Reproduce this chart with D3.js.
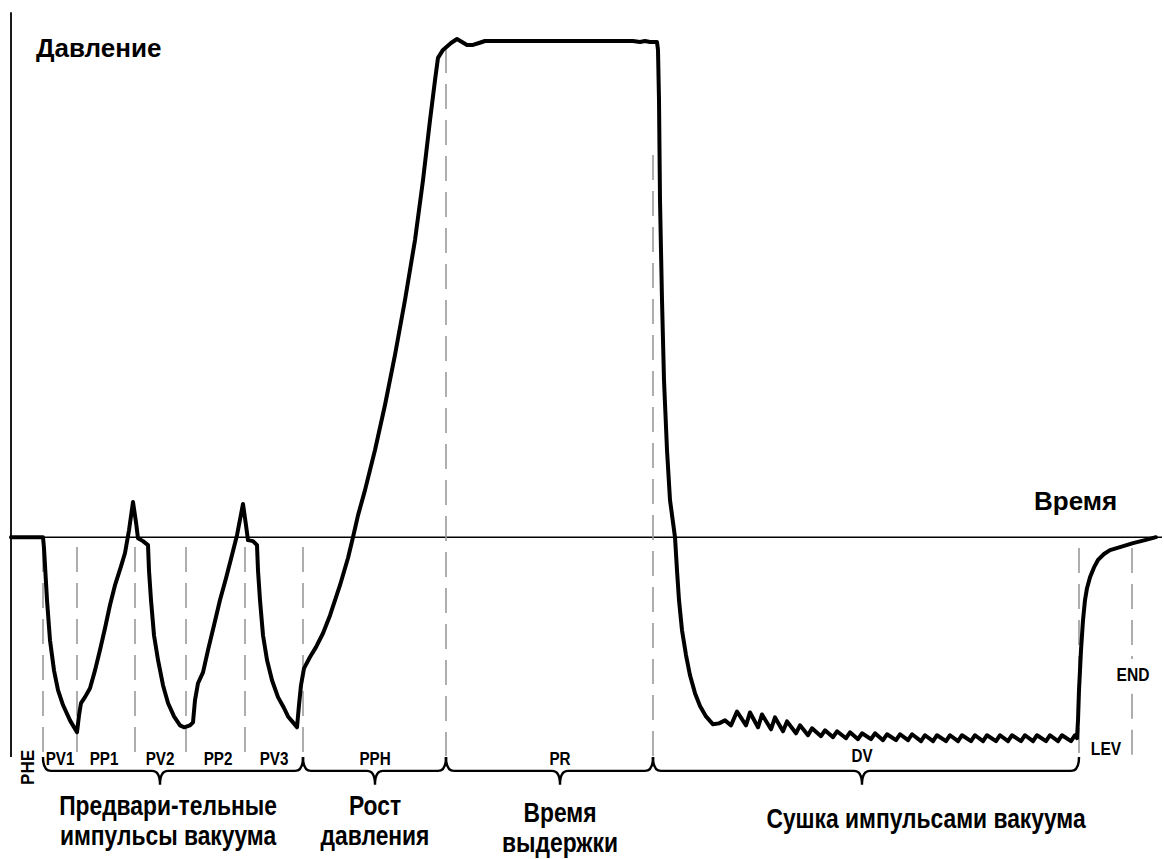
<!DOCTYPE html>
<html><head><meta charset="utf-8">
<script src="https://cdn.jsdelivr.net/npm/d3@7"></script>
<style>
html,body{margin:0;padding:0;background:#fff;}
svg{display:block;}
text{font-family:"Liberation Sans",Arial,"Helvetica",sans-serif;font-weight:bold;fill:#000;}
</style></head><body>
<script>
// ---- data (time in min, pressure in relative units; 0 = atmospheric) ----
const time = [0,3.2,3.3,3.4,3.6,3.9,4.3,4.7,5.2,5.9,6.6,6.8,7.0,7.4,7.9,8.4,8.9,9.4,9.9,10.4,11.0,11.4,11.8,12.2,12.5,12.7,13.2,13.7,
 13.8,14.0,14.3,14.7,15.2,15.7,16.3,16.9,17.3,17.9,18.2,18.4,18.7,19.2,19.7,20.3,20.9,21.5,22.1,22.6,23.2,23.5,23.7,24.2,24.6,
 24.7,24.9,25.2,25.6,26.1,26.7,27.3,27.7,28.2,28.6,28.8,29.0,29.3,29.9,30.5,31.2,31.9,32.9,33.7,34.2,34.7,35.4,36.4,37.4,38.4,39.4,40.4,41.2,41.9,42.4,42.7,43.2,
 44.0,44.6,45.1,45.6,46.2,46.8,47.4,53.9,62.2,62.9,63.4,63.9,64.6,
 64.7,64.8,64.9,65.1,65.3,65.6,65.9,66.4,66.6,66.8,67.1,67.5,67.9,68.4,68.9,69.5,70.2,70.8,71.4,72.0,
 72.6,73.5,73.9,74.7,75.1,76.0,76.4,77.2,77.6,78.5,78.9,79.7,80.1,81.0,81.4,82.2,82.6,83.5,83.9,84.7,85.1,86.0,86.4,87.2,87.6,
 88.5,88.9,89.7,90.1,91.0,91.4,92.2,92.6,93.5,93.9,94.7,95.1,96.0,96.4,97.2,97.6,98.5,98.9,99.7,100.1,101.0,101.4,102.2,102.6,
 103.5,103.9,104.7,105.1,106.0,106.4,106.6,
 106.7,106.8,107.0,107.2,107.4,107.6,107.9,108.3,108.7,109.3,109.9,110.9,112.2,113.4,114.5];
const pressure = [0,0,-2.2,-5.7,-12.7,-20.8,-26.9,-30.9,-33.9,-37.0,-39.4,-36.0,-33.5,-32.3,-30.5,-26.9,-22.8,-18.4,-13.7,-9.7,-5.9,-3.2,1.4,7.1,3.0,-0.2,-0.8,-1.6,
 -6.7,-12.7,-19.8,-24.8,-29.9,-33.5,-36.2,-38.0,-38.4,-38.0,-37.4,-32.9,-29.5,-27.3,-22.8,-17.8,-12.7,-8.3,-3.6,0.4,6.7,2.4,-0.6,-0.8,-1.6,
 -6.7,-12.7,-19.8,-24.8,-28.9,-32.3,-34.5,-36.2,-37.4,-38.4,-33.9,-29.9,-26.5,-24.2,-22.2,-19.4,-15.8,-9.7,-4.2,0,4.4,9.5,17.6,26.7,36.8,47.9,60.0,72.1,84.2,92.3,96.8,98.4,
 99.8,100.6,100.0,99.4,99.4,99.8,100.2,100.2,100.2,100.0,100.2,100.0,100.0,
 98.4,88.3,68.1,47.9,31.7,17.6,7.5,0,-6.7,-12.7,-18.8,-23.8,-27.9,-31.5,-34.1,-36.2,-37.8,-37.6,-37.0,-38.0,
 -35.2,-38.0,-35.4,-38.4,-35.8,-38.8,-36.4,-39.2,-37.2,-39.6,-38.0,-40.0,-38.6,-40.2,-39.0,-40.4,-39.2,-40.6,-39.4,-40.8,-39.6,-40.8,-39.6,-41.0,-39.8,
 -41.0,-39.8,-41.0,-39.8,-41.2,-40.0,-41.2,-40.0,-41.2,-40.0,-41.2,-40.0,-41.2,-40.0,-41.2,-40.0,-41.2,-40.0,-41.2,-40.0,-41.2,-40.0,-41.2,-40.0,
 -41.2,-40.0,-41.2,-40.0,-41.2,-40.0,-40.6,
 -37.0,-30.9,-22.8,-16.8,-12.7,-10.3,-8.1,-6.1,-4.6,-3.4,-2.6,-2.0,-1.2,-0.6,0];

// phase boundaries (dashed lines)
const boundTimes  = [3.2, 6.6, 12.4, 17.5, 23.4, 29.2, 43.5, 64.2, 106.8];
const boundTop    = [-2.0,-2.0,-2.0,-2.0,-2.0,-2.0, 98.8, 77.2, -2.2];
const boundBottom = [-44.2,-43.4,-43.4,-43.4,-43.4,-44.2,-44.2,-44.2,-44.2];
const endLineTime = 112.1;
const endLineSegments = [[-2.2,-24.6],[-31.6,-44.2]];

// phase codes
const phaseLabels = ["PV1","PP1","PV2","PP2","PV3","PPH","PR","DV"];
const phaseLabelTimes = [4.9, 9.3, 14.9, 20.7, 26.3, 36.4, 54.9, 85.1];
const phaseLabelP = [-46.0,-46.0,-46.0,-46.0,-46.0,-46.0,-46.0,-45.4];

// groups (braces)
const groupStart = [3.2, 29.2, 43.5, 64.2];
const groupEnd   = [29.2, 43.5, 64.2, 106.8];
const groupTip   = [14.9, 36.4, 54.9, 85.1];
const groupText  = [["Предвари-тельные","импульсы вакуума"],["Рост","давления"],["Время","выдержки"],["Сушка импульсами вакуума"]];
const groupTextTime = [15.7, 36.4, 54.9, 91.5];

const W = 1164, H = 859;
const x = d3.scaleLinear().domain([0,115]).range([11,1161]);
const y = d3.scaleLinear().domain([-45,100]).range([760,42]);

const svg = d3.select("body").append("svg").attr("width",W).attr("height",H);

// narrow bold text helper (horizontal compression like Arial Narrow)
function ntext(px, py, str, size, sx, anchor, rot){
  const g = svg.append("g").attr("transform",`translate(${px},${py})${rot?` rotate(${rot})`:""} scale(${sx},1)`);
  return g.append("text").attr("x",0).attr("y",0).attr("text-anchor",anchor||"middle").attr("font-size",size).text(str);
}

// axes
svg.append("line").attr("x1",x(0)).attr("x2",x(0)).attr("y1",y(106)).attr("y2",y(-44.4))
  .attr("stroke","#000").attr("stroke-width",1.8);
svg.append("line").attr("x1",x(0)).attr("x2",x(115.1)).attr("y1",y(0)).attr("y2",y(0))
  .attr("stroke","#000").attr("stroke-width",1.5);

// dashed boundaries
const dashStyle = s => s.attr("stroke","#9a9a9a").attr("stroke-width",1.6).attr("stroke-dasharray","25,11");
boundTimes.forEach((t,i)=>{
  dashStyle(svg.append("line").attr("x1",x(t)).attr("x2",x(t)).attr("y1",y(boundTop[i])).attr("y2",y(boundBottom[i])));
});
endLineSegments.forEach(s=>{
  dashStyle(svg.append("line").attr("x1",x(endLineTime)).attr("x2",x(endLineTime)).attr("y1",y(s[0])).attr("y2",y(s[1])));
});

// curve
const pts = time.map((t,i)=>[t,pressure[i]]);
const line = d3.line().x(d=>x(d[0])).y(d=>y(d[1])).curve(d3.curveLinear);
svg.append("path").attr("d",line(pts)).attr("fill","none").attr("stroke","#000")
  .attr("stroke-width",4).attr("stroke-linejoin","round").attr("stroke-linecap","round");

// braces
const yTop = y(-44.4), yLine = y(-47.2), yTip = y(-50.0), r = 8;
groupStart.forEach((s,i)=>{
  const x0=x(s), x1=x(groupEnd[i]), xm=x(groupTip[i]);
  const d = `M${x0},${yTop} Q${x0},${yLine} ${x0+r},${yLine} L${xm-r},${yLine} Q${xm},${yLine} ${xm},${yTip} `+
            `Q${xm},${yLine} ${xm+r},${yLine} L${x1-r},${yLine} Q${x1},${yLine} ${x1},${yTop}`;
  svg.append("path").attr("d",d).attr("fill","none").attr("stroke","#000").attr("stroke-width",2.4);
});

// phase labels
phaseLabels.forEach((l,i)=>{ ntext(x(phaseLabelTimes[i]), y(phaseLabelP[i]), l, 19, 0.8); });
// PHE rotated
ntext(x(1.6)+7, y(-46.5), "PHE", 19, 0.9, "middle", -90);
// LEV, END
ntext(x(109.5), y(-44.0), "LEV", 19, 0.82);
ntext(x(112.2), y(-29.1), "END", 19, 0.82);

// group texts
groupText.forEach((lines,i)=>{
  const baseY = i===2 ? 822 : (i===3 ? 828 : 815);
  lines.forEach((ln,j)=>{ ntext(x(groupTextTime[i]), baseY + j*30, ln, 27, 0.845); });
});

// axis titles
svg.append("text").attr("x",36).attr("y",57).attr("font-size",26).text("Давление");
svg.append("text").attr("x",1034).attr("y",510).attr("font-size",26).text("Время");
</script>
</body></html>
